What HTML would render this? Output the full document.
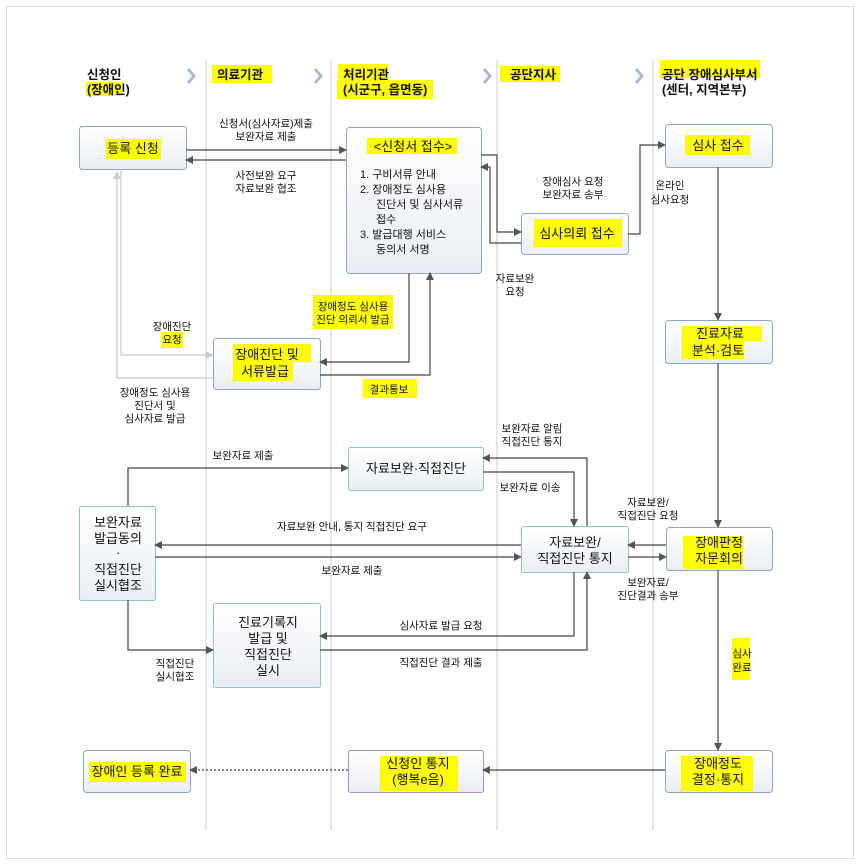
<!DOCTYPE html>
<html><head><meta charset="utf-8"><style>
body{margin:0;background:#fff}
svg{display:block}
text{font-family:"Liberation Sans","Noto Sans CJK KR",sans-serif;fill:#111}
.l{font-size:10.5px;text-anchor:middle}
.b{font-size:13px;text-anchor:middle}
.h{font-size:12.5px;font-weight:bold}
.ln{stroke:#444;stroke-width:1.2;fill:none}
.lg{stroke:#c8c8c8;stroke-width:1.2;fill:none}
</style></head><body>
<svg width="865" height="866" viewBox="0 0 865 866" xmlns="http://www.w3.org/2000/svg">
<defs>
<marker id="a" markerWidth="8" markerHeight="8" refX="7" refY="4" orient="auto" markerUnits="userSpaceOnUse"><path d="M0,0 L8,4 L0,8 Z" fill="#555"/></marker>
<marker id="ag" markerWidth="8" markerHeight="8" refX="7" refY="4" orient="auto" markerUnits="userSpaceOnUse"><path d="M0,0 L8,4 L0,8 Z" fill="#ccc"/></marker>
<linearGradient id="g" x1="0" y1="0" x2="0" y2="1"><stop offset="0" stop-color="#fff"/><stop offset="1" stop-color="#e9edf3"/></linearGradient>
</defs>
<rect x="6.5" y="6.5" width="847" height="852" fill="#fff" stroke="#ddd"/>
<g stroke="#ccc" stroke-width="1">
<line x1="206" y1="60" x2="206" y2="830"/><line x1="331" y1="60" x2="331" y2="830"/>
<line x1="497" y1="60" x2="497" y2="830"/><line x1="653" y1="60" x2="653" y2="830"/>
</g>
<g stroke="#aabbd0" stroke-width="3" fill="none">
<path d="M188,69 L194,76 L188,83"/><path d="M315,69 L321,76 L315,83"/><path d="M484,69 L490,76 L484,83"/><path d="M636,69 L642,76 L636,83"/>
</g>
<!-- boxes -->
<g fill="url(#g)" stroke="#8ea6c6" stroke-width="1">
<rect x="79.5" y="126.5" width="107" height="43" rx="3"/>
<rect x="346.5" y="127.5" width="135" height="146" rx="3"/>
<rect x="521.5" y="213.5" width="107" height="41" rx="3"/>
<rect x="665.5" y="124.5" width="107" height="43" rx="3"/>
<rect x="665.5" y="320.5" width="107" height="43" rx="3"/>
<rect x="213.5" y="338.5" width="107" height="51" rx="3"/>
<rect x="83.5" y="750.5" width="107" height="42" rx="3"/>
<rect x="665.5" y="750.5" width="107" height="42" rx="3"/>
<rect x="666.5" y="527.5" width="106" height="43" rx="3"/>
</g>
<g fill="url(#g)" stroke="#8cc9bc" stroke-width="1">
<rect x="348.5" y="447.5" width="135" height="43" rx="2"/>
<rect x="79.5" y="506.5" width="76" height="94" rx="2"/>
<rect x="521.5" y="526.5" width="107" height="46" rx="2"/>
<rect x="213.5" y="603.5" width="107" height="84" rx="2"/>
</g>
<rect x="348.5" y="750.5" width="135" height="42" rx="2" fill="url(#g)" stroke="#b78cc9"/>
<!-- highlights -->
<g fill="#ffff00">
<rect x="86" y="82" width="36" height="14"/>
<rect x="212" y="65" width="60" height="18"/>
<rect x="338" y="64" width="50" height="16"/><rect x="337" y="80" width="96" height="19"/>
<rect x="500" y="66" width="60" height="16"/>
<rect x="660" y="60" width="100" height="18"/>
<rect x="106" y="139" width="55" height="20"/>
<rect x="367" y="138" width="90" height="16"/>
<rect x="534" y="219" width="88" height="28"/>
<rect x="685" y="135" width="65" height="20"/>
<rect x="682" y="326" width="80" height="15"/><rect x="682" y="341" width="62" height="18"/>
<rect x="233" y="344" width="78" height="18"/><rect x="233" y="362" width="60" height="19"/>
<rect x="313" y="295" width="80" height="34"/>
<rect x="363" y="379" width="54" height="19"/>
<rect x="161" y="332" width="22" height="16"/>
<rect x="732" y="638" width="18" height="42"/>
<rect x="683" y="536" width="60" height="33"/>
<rect x="681" y="756" width="72" height="35"/>
<rect x="89" y="762" width="97" height="20"/>
<rect x="380" y="756" width="78" height="35"/>
</g>
<!-- headers -->
<text class="h" x="87" y="79">신청인</text><text class="h" x="87" y="94">(장애인)</text>
<text class="h" x="217" y="79">의료기관</text>
<text class="h" x="343" y="79">처리기관</text><text class="h" x="343" y="94">(시군구, 읍면동)</text>
<text class="h" x="510" y="79">공단지사</text>
<text class="h" x="662" y="79">공단 장애심사부서</text><text class="h" x="662" y="94">(센터, 지역본부)</text>
<!-- box texts -->
<text class="b" x="133" y="153">등록 신청</text>
<text class="b" x="413" y="151">&lt;신청서 접수&gt;</text>
<g font-size="11"><text x="360" y="178">1.  구비서류 안내</text><text x="360" y="193">2.  장애정도 심사용</text><text x="376" y="208">진단서 및 심사서류</text><text x="376" y="223">접수</text><text x="360" y="238">3.  발급대행 서비스</text><text x="376" y="253">동의서 서명</text></g>
<text class="b" x="577" y="238">심사의뢰 접수</text>
<text class="b" x="718" y="150">심사 접수</text>
<text class="b" x="720" y="338">진료자료</text><text class="b" x="718" y="355">분석·검토</text>
<text class="b" x="267" y="359">장애진단 및</text><text class="b" x="265" y="376">서류발급</text>
<text class="b" x="416" y="473">자료보완·직접진단</text>
<text class="b" x="118" y="527">보완자료</text><text class="b" x="118" y="543">발급동의</text><text class="b" x="118" y="557">·</text><text class="b" x="118" y="574">직접진단</text><text class="b" x="118" y="590">실시협조</text>
<text class="b" x="575" y="547">자료보완/</text><text class="b" x="575" y="563">직접진단 통지</text>
<text class="b" x="719" y="547">장애판정</text><text class="b" x="719" y="563">자문회의</text>
<text class="b" x="268" y="627">진료기록지</text><text class="b" x="268" y="643">발급 및</text><text class="b" x="268" y="659">직접진단</text><text class="b" x="268" y="675">실시</text>
<text class="b" x="137" y="776">장애인 등록 완료</text>
<text class="b" x="418" y="768">신청인 통지</text><text class="b" x="418" y="784">(행복e음)</text>
<text class="b" x="718" y="768">장애정도</text><text class="b" x="718" y="784">결정·통지</text>
<!-- connectors -->
<g class="ln">
<path d="M186,150 H346" marker-end="url(#a)"/>
<path d="M346,160 H186" marker-end="url(#a)"/>
<path d="M481,155 H497 V232 H521" marker-end="url(#a)"/>
<path d="M521,243 H490 V167 H481" marker-end="url(#a)"/>
<path d="M628,234 H640 V145 H665" marker-end="url(#a)"/>
<path d="M718,167 V320" marker-end="url(#a)"/>
<path d="M718,363 V527" marker-end="url(#a)"/>
<path d="M718,570 V750" marker-end="url(#a)"/>
<path d="M665,770 H483" marker-end="url(#a)"/>
<path d="M348,770 H190" stroke-dasharray="2,2" marker-end="url(#a)"/>
<path d="M409,273 V362 H320" marker-end="url(#a)"/>
<path d="M320,375 H430 V273" marker-end="url(#a)"/>
<path d="M128,506 V468 H348" marker-end="url(#a)"/>
<path d="M521,545 H155" marker-end="url(#a)"/>
<path d="M155,557 H521" marker-end="url(#a)"/>
<path d="M587,526 V458 H483" marker-end="url(#a)"/>
<path d="M483,472 H574 V526" marker-end="url(#a)"/>
<path d="M666,545 H628" marker-end="url(#a)"/>
<path d="M628,557 H666" marker-end="url(#a)"/>
<path d="M128,600 V650 H213" marker-end="url(#a)"/>
<path d="M574,572 V636 H320" marker-end="url(#a)"/>
<path d="M320,650 H587 V572" marker-end="url(#a)"/>
</g>
<g class="lg">
<path d="M121,169 V355 H213" marker-end="url(#ag)"/>
<path d="M213,378 H117 V172" marker-end="url(#ag)"/>
</g>
<!-- labels -->
<text class="l" x="266" y="127">신청서(심사자료)제출</text><text class="l" x="266" y="140">보완자료 제출</text>
<text class="l" x="266" y="179">사전보완 요구</text><text class="l" x="266" y="192">자료보완 협조</text>
<text class="l" x="573" y="185">장애심사 요청</text><text class="l" x="573" y="198">보완자료 송부</text>
<text class="l" x="515" y="282">자료보완</text><text class="l" x="515" y="295">요청</text>
<text class="l" x="670" y="189">온라인</text><text class="l" x="670" y="203">심사요청</text>
<text class="l" x="172" y="330">장애진단</text><text class="l" x="172" y="343">요청</text>
<text class="l" x="155" y="396">장애정도 심사용</text><text class="l" x="155" y="409">진단서 및</text><text class="l" x="155" y="422">심사자료 발급</text>
<text class="l" x="353" y="310">장애정도 심사용</text><text class="l" x="353" y="323">진단 의뢰서 발급</text>
<text class="l" x="389" y="393">결과통보</text>
<text class="l" x="243" y="459">보완자료 제출</text>
<text class="l" x="532" y="432">보완자료 알림</text><text class="l" x="532" y="445">직접진단 통지</text>
<text class="l" x="530" y="491">보완자료 이송</text>
<text class="l" x="352" y="530">자료보완 안내, 통지 직접진단 요구</text>
<text class="l" x="352" y="574">보완자료 제출</text>
<text class="l" x="648" y="506">자료보완/</text><text class="l" x="648" y="519">직접진단 요청</text>
<text class="l" x="648" y="586">보완자료/</text><text class="l" x="648" y="599">진단결과 송부</text>
<text class="l" x="175" y="667">직접진단</text><text class="l" x="175" y="680">실시협조</text>
<text class="l" x="441" y="629">심사자료 발급 요청</text>
<text class="l" x="441" y="666">직접진단 결과 제출</text>
<text class="l" x="742" y="657">심사</text><text class="l" x="742" y="671">완료</text>
</svg>
</body></html>
